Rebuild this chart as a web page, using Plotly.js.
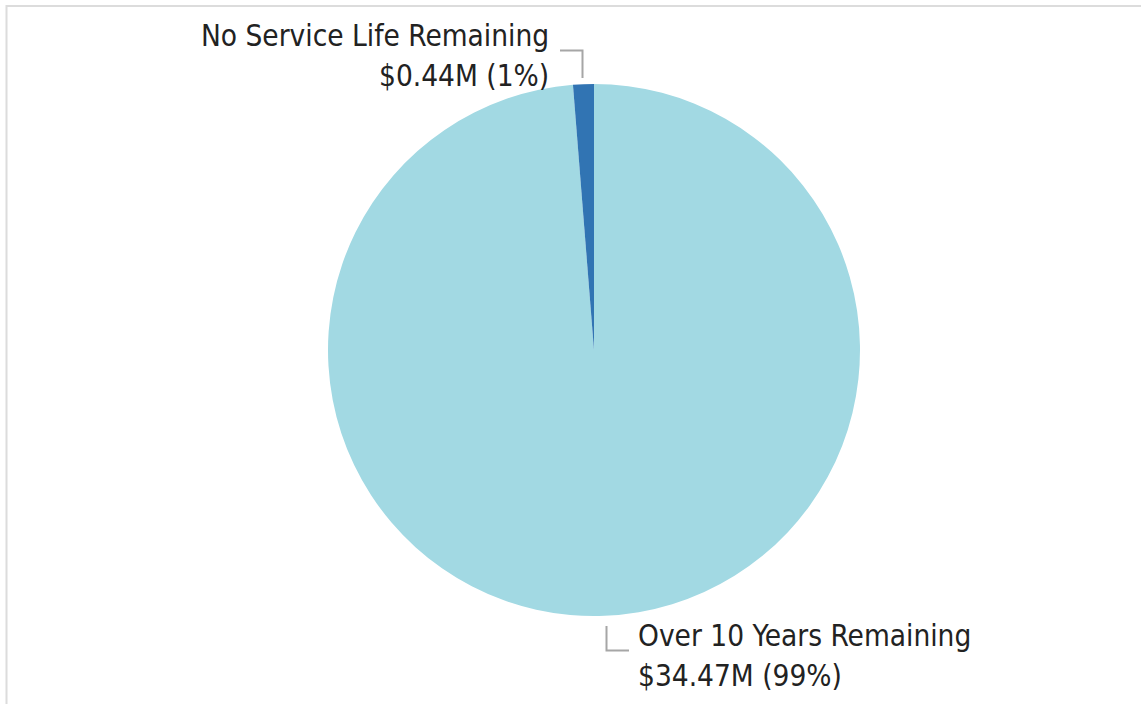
<!DOCTYPE html>
<html>
<head>
<meta charset="utf-8">
<script src="https://cdn.plot.ly/plotly-3.0.1.min.js"></script>
<style>html,body{margin:0;padding:0;background:#fff;}#chart{width:1141px;height:704px;}</style>
</head>
<body>
<div id="chart"></div>
<script>
const categories = ["Over 10 Years Remaining", "No Service Life Remaining"];
const valuesM = [34.47, 0.44];
const colors = ["#a2d9e3", "#3174b3"];

const W = 1141, H = 704;
const total = valuesM.reduce((a, b) => a + b, 0);
const valueText = valuesM.map(v => "$" + v.toFixed(2) + "M (" + Math.round(v / total * 100) + "%)");

const px = x => x / W;
const py = y => 1 - y / H;
const FONT = {family: "DejaVu Sans Condensed, DejaVu Sans, sans-serif", size: 29.5, color: "#222222"};

const trace = {
  type: "pie",
  labels: categories,
  values: valuesM,
  marker: {colors: colors, line: {width: 0}},
  sort: false,
  direction: "clockwise",
  rotation: 0,
  textinfo: "none",
  hoverinfo: "label+value+percent",
  showlegend: false,
  domain: {x: [px(328), px(860)], y: [py(616), py(84)]}
};

const annotations = [
  {x: px(551), y: py(36), text: categories[1], xanchor: "right", yanchor: "middle"},
  {x: px(551), y: py(76), text: valueText[1], xanchor: "right", yanchor: "middle"},
  {x: px(636), y: py(636), text: categories[0], xanchor: "left", yanchor: "middle"},
  {x: px(636), y: py(676), text: valueText[0], xanchor: "left", yanchor: "middle"}
].map(a => Object.assign({xref: "paper", yref: "paper", showarrow: false, font: FONT}, a));

const lineStyle = {color: "#a6a6a6", width: 2};
const shapes = [
  {type: "path", path: "M560,50.5 L582.5,50.5 L582.5,78", xref: "paper", yref: "paper"},
  {type: "path", path: "M606.5,626 L606.5,650.5 L629,650.5", xref: "paper", yref: "paper"}
];
function pathToPaper(p) {
  return p.replace(/([ML])([\d.]+),([\d.]+)/g, (m, c, x, y) => c + px(+x) + "," + py(+y));
}
shapes.forEach(s => { s.path = pathToPaper(s.path); s.line = lineStyle; });
shapes.push(
  {type: "line", xref: "paper", yref: "paper", x0: px(6.5), x1: px(6.5), y0: py(5), y1: py(704), line: {color: "#dcdcdc", width: 2}},
  {type: "line", xref: "paper", yref: "paper", x0: px(6), x1: px(1141), y0: py(6), y1: py(6), line: {color: "#dcdcdc", width: 2}}
);

const layout = {
  width: W, height: H,
  margin: {l: 0, r: 0, t: 0, b: 0},
  paper_bgcolor: "#ffffff",
  plot_bgcolor: "#ffffff",
  showlegend: false,
  annotations: annotations,
  shapes: shapes
};

Plotly.newPlot("chart", [trace], layout, {displayModeBar: false, staticPlot: true});
</script>
</body>
</html>
